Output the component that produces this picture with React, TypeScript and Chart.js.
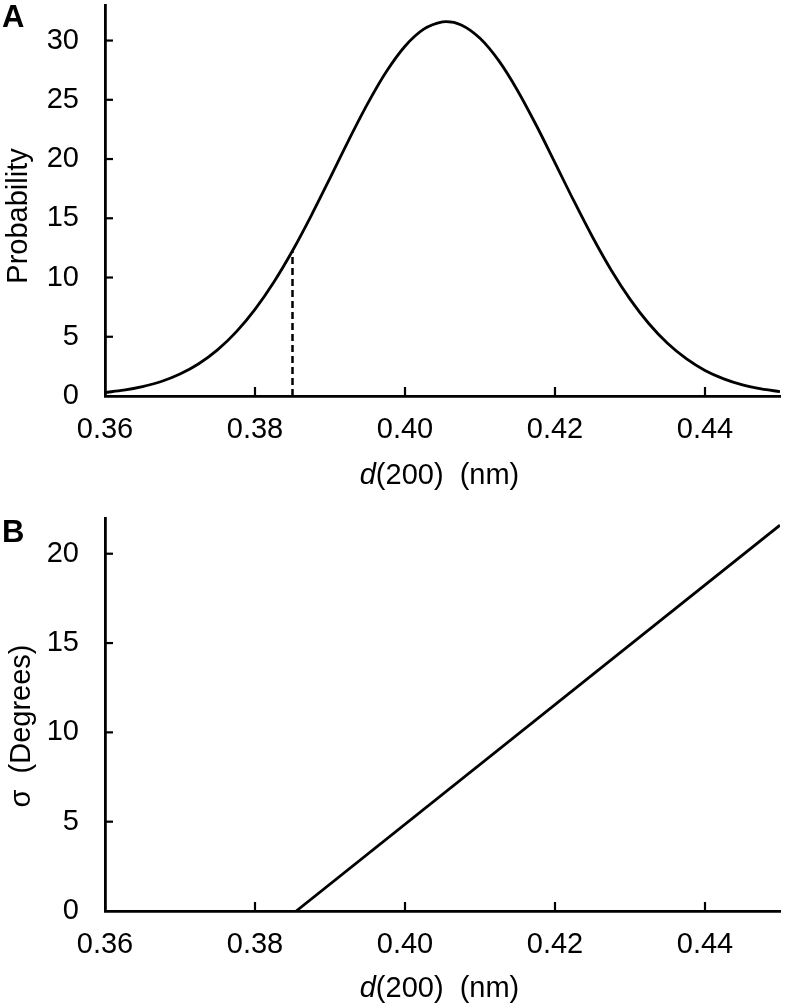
import React, { useEffect, useRef } from "react";
import { Chart, registerables } from "chart.js";

Chart.register(...registerables);

// ---- Data ----
const dValues = [
  0.36, 0.3625, 0.365, 0.3675, 0.37, 0.3725, 0.375, 0.3775, 0.38, 0.3825,
  0.385, 0.3875, 0.39, 0.3925, 0.395, 0.3975, 0.4, 0.4025, 0.405, 0.4055, 0.4075,
  0.41, 0.4125, 0.415, 0.4175, 0.42, 0.4225, 0.425, 0.4275, 0.43, 0.4325,
  0.435, 0.4375, 0.44, 0.4425, 0.445, 0.4475, 0.45,
];
const probValues = [
  0.3, 0.49, 0.79, 1.22, 1.85, 2.72, 3.89, 5.41, 7.31, 9.6,
  12.26, 15.23, 18.39, 21.6, 24.65, 27.36, 29.52, 30.96, 31.58, 31.6, 31.32,
  30.19, 28.3, 25.79, 22.85, 19.68, 16.48, 13.42, 10.62, 8.18, 6.12,
  4.45, 3.15, 2.16, 1.45, 0.94, 0.6, 0.37,
];
const cutoffD = [0.385, 0.385];
const cutoffProb = [0, 12.3];
const sigmaD = [0.3855, 0.45];
const sigmaValues = [0, 21.6];
const xTickValues = [0.36, 0.38, 0.4, 0.42, 0.44];
const probTickValues = [0, 5, 10, 15, 20, 25, 30];
const sigmaTickValues = [0, 5, 10, 15, 20];

const FONT = "'Liberation Sans', Arial, Helvetica, sans-serif";
const FS = 29;

const decorPlugin = {
  id: "decor",
  afterDraw(chart: any, _args: any, opts: any) {
    const ctx = chart.ctx as CanvasRenderingContext2D;
    const { left, right, bottom } = chart.chartArea;
    const xs = chart.scales.x;
    const ys = chart.scales.y;
    ctx.save();
    ctx.strokeStyle = "#000";
    ctx.lineWidth = 2.2;
    xs.ticks.forEach((t: any) => {
      const px = xs.getPixelForValue(t.value);
      if (Math.abs(px - left) < 2) return;
      ctx.beginPath();
      ctx.moveTo(px, bottom);
      ctx.lineTo(px, bottom - 9);
      ctx.stroke();
    });
    ys.ticks.forEach((t: any) => {
      const py = ys.getPixelForValue(t.value);
      if (Math.abs(py - bottom) < 2) return;
      ctx.beginPath();
      ctx.moveTo(left, py);
      ctx.lineTo(left + 8, py);
      ctx.stroke();
    });

    ctx.fillStyle = "#000";
    ctx.textBaseline = "alphabetic";
    ctx.textAlign = "left";
    // x-axis title with italic d
    const italic = `italic ${FS}px ${FONT}`;
    const normal = `${FS}px ${FONT}`;
    ctx.font = italic;
    const w1 = ctx.measureText(opts.xItalic).width;
    ctx.font = normal;
    const w2 = ctx.measureText(opts.xRest).width;
    const cx = (left + right) / 2 + opts.xTitleShift;
    const x0 = cx - (w1 + w2) / 2;
    const by = bottom + opts.xTitleOffset;
    ctx.font = italic;
    ctx.fillText(opts.xItalic, x0, by);
    ctx.font = normal;
    ctx.fillText(opts.xRest, x0 + w1, by);

    // y-axis title
    ctx.save();
    ctx.translate(opts.yTitleX, opts.yTitleY);
    ctx.rotate(-Math.PI / 2);
    ctx.textAlign = "center";
    ctx.textBaseline = "alphabetic";
    ctx.font = normal;
    ctx.fillText(opts.yTitle, 0, 0);
    ctx.restore();

    // panel letter
    ctx.font = `bold 31px ${FONT}`;
    ctx.textAlign = "left";
    ctx.fillText(opts.letter, opts.letterX, opts.letterY);
    ctx.restore();
  },
};

function axisCommon() {
  return {
    grid: { display: true, drawOnChartArea: false, drawTicks: false },
    border: { display: true, color: "#000", width: 2.8 },
  };
}

function makeConfig(p: {
  datasets: any[];
  yMax: number;
  yTicks: number[];
  xAxisHeight: number;
  padTop: number;
  decor: any;
}) {
  return {
    type: "line" as const,
    data: { datasets: p.datasets },
    plugins: [decorPlugin],
    options: {
      animation: false,
      responsive: false,
      devicePixelRatio: 1,
      layout: { padding: { top: p.padTop, right: 5, left: 0, bottom: 0 } },
      plugins: {
        legend: { display: false },
        tooltip: { enabled: false },
        decor: p.decor,
      },
      elements: { point: { radius: 0 } },
      scales: {
        x: {
          type: "linear",
          min: 0.36,
          max: 0.45,
          afterBuildTicks: (s: any) => {
            s.ticks = xTickValues.map((v) => ({ value: v }));
          },
          afterFit: (s: any) => {
            s.height = p.xAxisHeight;
            s.paddingLeft = 0;
            s.paddingRight = 0;
          },
          ...axisCommon(),
          ticks: {
            color: "#000",
            font: { family: FONT, size: FS },
            padding: 17,
            maxRotation: 0,
            autoSkip: false,
            callback: (v: any) => Number(v).toFixed(2),
          },
        },
        y: {
          type: "linear",
          min: 0,
          max: p.yMax,
          afterBuildTicks: (s: any) => {
            s.ticks = p.yTicks.map((v) => ({ value: v }));
          },
          afterFit: (s: any) => {
            s.width = 105;
            s.paddingTop = 0;
            s.paddingBottom = 0;
          },
          ...axisCommon(),
          ticks: {
            color: "#000",
            font: { family: FONT, size: FS },
            padding: 26,
            autoSkip: false,
            callback: (v: any) => String(v),
          },
        },
      },
    },
  };
}

export default function App() {
  const refA = useRef<HTMLCanvasElement>(null);
  const refB = useRef<HTMLCanvasElement>(null);

  useEffect(() => {
    const curve = dValues.map((d, i) => ({ x: d, y: probValues[i] }));
    const cutoff = cutoffD.map((d, i) => ({ x: d, y: cutoffProb[i] }));
    const sigma = sigmaD.map((d, i) => ({ x: d, y: sigmaValues[i] }));

    const chartA = new Chart(
      refA.current as HTMLCanvasElement,
      makeConfig({
        datasets: [
          {
            data: curve,
            borderColor: "#000",
            borderWidth: 2.8,
            cubicInterpolationMode: "monotone",
            fill: false,
          },
          {
            data: cutoff,
            borderColor: "#000",
            borderWidth: 2.5,
            borderDash: [7, 4],
            fill: false,
          },
        ],
        yMax: 33,
        yTicks: probTickValues,
        xAxisHeight: 104,
        padTop: 5,
        decor: {
          xItalic: "d",
          xRest: "(200)  (nm)",
          xTitleShift: -3,
          xTitleOffset: 88,
          yTitle: "Probability",
          yTitleX: 27,
          yTitleY: 216,
          letter: "A",
          letterX: 2,
          letterY: 27,
        },
      }) as any
    );

    const chartB = new Chart(
      refB.current as HTMLCanvasElement,
      makeConfig({
        datasets: [
          {
            data: sigma,
            borderColor: "#000",
            borderWidth: 2.8,
            fill: false,
          },
        ],
        yMax: 22,
        yTicks: sigmaTickValues,
        xAxisHeight: 93,
        padTop: 18,
        decor: {
          xItalic: "d",
          xRest: "(200)  (nm)",
          xTitleShift: -3,
          xTitleOffset: 86,
          yTitle: "σ  (Degrees)",
          yTitleX: 30,
          yTitleY: 226,
          letter: "B",
          letterX: 2,
          letterY: 42,
        },
      }) as any
    );

    return () => {
      chartA.destroy();
      chartB.destroy();
    };
  }, []);

  return (
    <div
      style={{
        position: "absolute",
        left: 0,
        top: 0,
        width: 785,
        height: 1004,
        background: "#fff",
      }}
    >
      <canvas
        ref={refA}
        width={785}
        height={500}
        style={{ position: "absolute", left: 0, top: 0, width: 785, height: 500 }}
      />
      <canvas
        ref={refB}
        width={785}
        height={504}
        style={{ position: "absolute", left: 0, top: 500, width: 785, height: 504 }}
      />
    </div>
  );
}
